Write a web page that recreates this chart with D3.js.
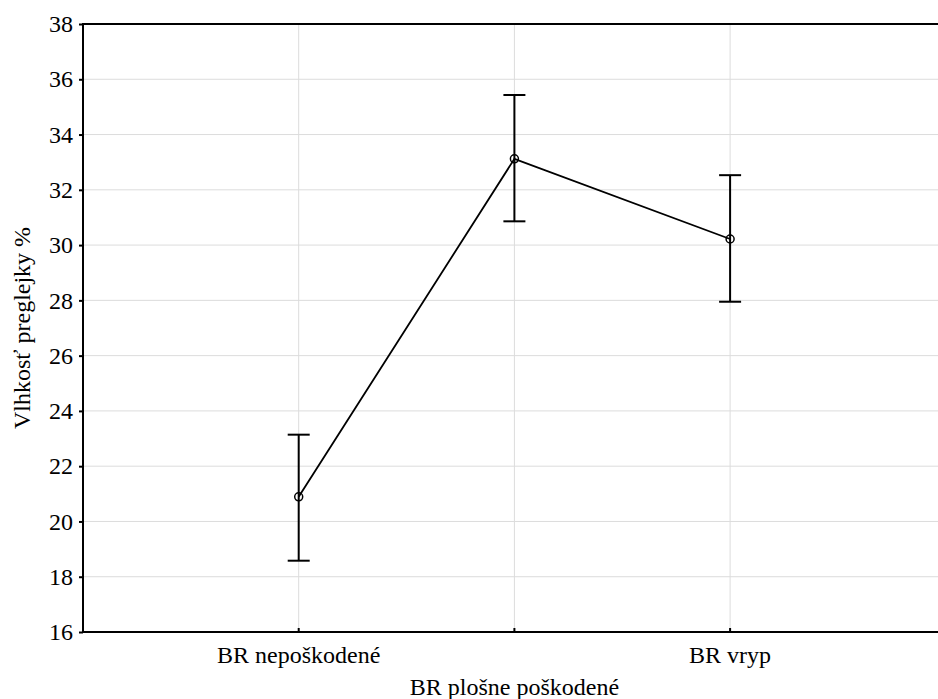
<!DOCTYPE html>
<html>
<head>
<meta charset="utf-8">
<script src="https://cdn.jsdelivr.net/npm/d3@7"></script>
<style>
  body { margin: 0; background: #fff; }
  svg { display: block; }
  svg text { font-family: "Liberation Serif", "Times New Roman", Tinos, "DejaVu Serif", serif; }
</style>
</head>
<body>
<svg id="chart" width="938" height="699"></svg>
<script>
const categories = ['BR nepoškodené', 'BR plošne poškodené', 'BR vryp'];
const means = [20.89, 33.12, 30.22];
const upper = [23.14, 35.43, 32.53];
const lower = [18.58, 30.86, 27.95];
const yTicks = [16, 18, 20, 22, 24, 26, 28, 30, 32, 34, 36, 38];

const serif = '"Liberation Serif", "Times New Roman", Tinos, "DejaVu Serif", serif';

let svg = d3.select('#chart');
let plotLeft = 83, plotTop = 24, plotBottom = 632;
let step = 215.7;

let x = d3.scalePoint()
    .domain(categories)
    .range([plotLeft + step, plotLeft + step * 3]);
let y = d3.scaleLinear()
    .domain([16, 38])
    .range([plotBottom, plotTop]);

// grid ----------------------------------------------------------------
svg.append('g').selectAll('line').data(yTicks.slice(1, -1)).enter().append('line')
    .attr('x1', plotLeft).attr('x2', 938)
    .attr('y1', d => y(d)).attr('y2', d => y(d))
    .attr('stroke', '#dcdcdc').attr('stroke-width', 1);
svg.append('g').selectAll('line').data(categories).enter().append('line')
    .attr('x1', d => x(d)).attr('x2', d => x(d))
    .attr('y1', plotTop).attr('y2', plotBottom)
    .attr('stroke', '#dcdcdc').attr('stroke-width', 1);

// axes ----------------------------------------------------------------
let yAxis = d3.axisLeft(y).tickValues(yTicks).tickSize(4).tickPadding(6);
let gy = svg.append('g').attr('transform', 'translate(' + plotLeft + ',0)').call(yAxis)
    .attr('font-family', serif).attr('font-size', 24);
gy.select('.domain').remove();
gy.selectAll('.tick line').attr('stroke', '#000').attr('stroke-width', 2);
gy.selectAll('text').attr('fill', '#000');

svg.append('line').attr('x1', plotLeft).attr('x2', plotLeft).attr('y1', plotTop - 1).attr('y2', plotBottom + 1)
    .attr('stroke', '#000').attr('stroke-width', 2);
svg.append('line').attr('x1', plotLeft).attr('x2', 938).attr('y1', plotBottom).attr('y2', plotBottom)
    .attr('stroke', '#000').attr('stroke-width', 2);
svg.append('line').attr('x1', plotLeft).attr('x2', 938).attr('y1', plotTop).attr('y2', plotTop)
    .attr('stroke', '#000').attr('stroke-width', 2);

// x ticks (inward) and labels, middle one staggered
svg.append('g').selectAll('line').data(categories).enter().append('line')
    .attr('x1', d => x(d)).attr('x2', d => x(d))
    .attr('y1', plotBottom).attr('y2', plotBottom - 4)
    .attr('stroke', '#000').attr('stroke-width', 2);
svg.append('g').selectAll('text').data(categories).enter().append('text')
    .attr('x', d => x(d))
    .attr('y', (d, i) => i % 2 === 1 ? 695 : 663)
    .attr('text-anchor', 'middle')
    .attr('font-family', serif)
    .attr('font-size', 24)
    .text(d => d);

svg.append('text')
    .attr('transform', 'translate(30,' + ((plotTop + plotBottom) / 2) + ') rotate(-90)')
    .attr('text-anchor', 'middle')
    .attr('font-family', serif)
    .attr('font-size', 24)
    .text('Vlhkosť preglejky %');

// error bars ------------------------------------------------------------
let bars = svg.append('g');
categories.forEach((c, i) => {
    bars.append('line').attr('x1', x(c)).attr('x2', x(c))
        .attr('y1', y(upper[i])).attr('y2', y(lower[i]))
        .attr('stroke', '#000').attr('stroke-width', 2);
    [upper[i], lower[i]].forEach(v => {
        bars.append('line').attr('x1', x(c) - 11).attr('x2', x(c) + 11)
            .attr('y1', y(v)).attr('y2', y(v))
            .attr('stroke', '#000').attr('stroke-width', 2);
    });
});

// mean line -------------------------------------------------------------
let line = d3.line()
    .x((d, i) => x(categories[i]))
    .y(d => y(d));
svg.append('path').datum(means)
    .attr('fill', 'none').attr('stroke', '#000').attr('stroke-width', 1.8)
    .attr('d', line);

svg.append('g').selectAll('circle').data(means).enter().append('circle')
    .attr('cx', (d, i) => x(categories[i]))
    .attr('cy', d => y(d))
    .attr('r', 4)
    .attr('fill', 'none').attr('stroke', '#000').attr('stroke-width', 1.5);
</script>
</body>
</html>
